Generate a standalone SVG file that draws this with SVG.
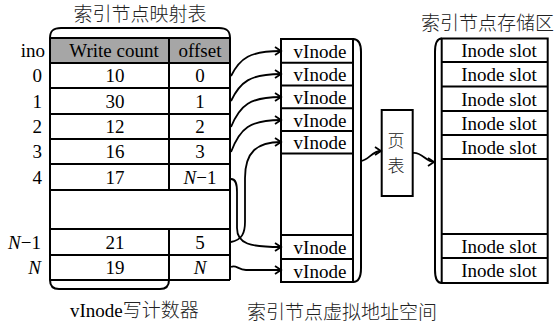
<svg xmlns="http://www.w3.org/2000/svg" width="554" height="327" viewBox="0 0 554 327">
<defs>
<marker id="arr" markerUnits="userSpaceOnUse" markerWidth="10" markerHeight="12" refX="7" refY="5" orient="auto">
<path d="M1,1 L7,5 L1,9" fill="none" stroke="#000" stroke-width="1.8"/>
</marker>
</defs>
<style>
.ln{stroke:#000;stroke-width:2;fill:none}
.bx{stroke:#000;stroke-width:2;fill:#fff}
.t{font-family:"Liberation Serif","Times New Roman",Times,"DejaVu Serif",serif;font-size:19px;fill:#000}
.c{font-family:"Noto Sans CJK SC","Noto Sans CJK JP",sans-serif;font-size:19px;fill:#222;font-weight:300}
.m{text-anchor:middle}
.e{text-anchor:end}
.i{font-style:italic}
.cn{stroke:#000;stroke-width:1.8;fill:none;marker-end:url(#arr)}
</style>
<rect width="554" height="327" fill="#fff"/>

<g id="mapping-table">
<text class="c m" x="140" y="21">索引节点映射表</text>
<path class="ln" d="M50,38 C50,31 53,28 61,28 L219,28 C227,28 230,31 230,38"/>
<rect x="50" y="38" width="180" height="25" fill="#a6a6a6"/>
<rect x="50" y="63" width="180" height="217" fill="#fff"/>
<path class="ln" d="M50,38 L50,280 M230,38 L230,280 M169,38 L169,190 M169,229 L169,280 M50,38 L230,38 M50,63 L230,63 M50,88 L230,88 M50,114 L230,114 M50,139 L230,139 M50,164 L230,164 M50,190 L230,190 M50,229 L230,229 M50,255 L230,255 M50,280 L230,280"/>
<path class="ln" d="M50,280 C50,286 53,289 59,289 L160,289 C166,289 169,286 169,280"/>
<text class="t m" x="114" y="57">Write count</text>
<text class="t m" x="200" y="57">offset</text>
<text class="t e" x="45" y="57">ino</text>
<text class="t e" x="42" y="82">0</text>
<text class="t e" x="42" y="107.5">1</text>
<text class="t e" x="42" y="133">2</text>
<text class="t e" x="42" y="158">3</text>
<text class="t e" x="42" y="183.5">4</text>
<text class="t e" x="41" y="248.5"><tspan class="i">N</tspan>−1</text>
<text class="t e i" x="41" y="274">N</text>
<text class="t m" x="115" y="82">10</text>
<text class="t m" x="115" y="107.5">30</text>
<text class="t m" x="115" y="133">12</text>
<text class="t m" x="115" y="158">16</text>
<text class="t m" x="115" y="183.5">17</text>
<text class="t m" x="115" y="248.5">21</text>
<text class="t m" x="115" y="274">19</text>
<text class="t m" x="200" y="82">0</text>
<text class="t m" x="200" y="107.5">1</text>
<text class="t m" x="200" y="133">2</text>
<text class="t m" x="200" y="158">3</text>
<text class="t m" x="200" y="183.5"><tspan class="i">N</tspan>−1</text>
<text class="t m" x="200" y="248.5">5</text>
<text class="t m i" x="200" y="274">N</text>
<text class="t" x="70" y="317">vInode<tspan class="c">写计数器</tspan></text>
</g>

<g id="vinode-space">
<rect class="bx" x="281" y="39" width="72" height="243"/>
<path class="ln" d="M281,62.7 L353,62.7 M281,85.5 L353,85.5 M281,108.3 L353,108.3 M281,131 L353,131 M281,153.5 L353,153.5 M281,235 L353,235 M281,259 L353,259"/>
<path class="ln" d="M353,39 C359,39 361,44 361,52 L361,268 C361,277 358,282 353,282"/>
<text class="t m" x="320" y="58">vInode</text>
<text class="t m" x="320" y="80.5">vInode</text>
<text class="t m" x="320" y="103.5">vInode</text>
<text class="t m" x="320" y="126.5">vInode</text>
<text class="t m" x="320" y="149">vInode</text>
<text class="t m" x="320" y="254">vInode</text>
<text class="t m" x="320" y="277.5">vInode</text>
<text class="c" x="247" y="319">索引节点虚拟地址空间</text>
</g>

<g id="page-table">
<rect class="bx" x="381.7" y="110" width="31" height="86"/>
<text class="c m" x="396" y="147" style="font-size:17px">页</text>
<text class="c m" x="396" y="172" style="font-size:17px">表</text>
</g>

<g id="inode-store">
<text class="c" x="421" y="30">索引节点存储区</text>
<rect class="bx" x="441.7" y="38.5" width="106" height="244.5"/>
<path class="ln" d="M441.7,62 L547.7,62 M441.7,86.5 L547.7,86.5 M441.7,111 L547.7,111 M441.7,135 L547.7,135 M441.7,159 L547.7,159 M441.7,234 L547.7,234 M441.7,258 L547.7,258"/>
<path class="ln" d="M441.7,38.5 C437,38.5 435,43 435,52 L435,270 C435,279 437,283 441.7,283"/>
<text class="t m" x="499" y="57">Inode slot</text>
<text class="t m" x="499" y="81">Inode slot</text>
<text class="t m" x="499" y="105.5">Inode slot</text>
<text class="t m" x="499" y="130">Inode slot</text>
<text class="t m" x="499" y="154">Inode slot</text>
<text class="t m" x="499" y="253">Inode slot</text>
<text class="t m" x="499" y="277">Inode slot</text>
</g>

<g id="connectors">
<path class="cn" d="M231,76 C240,58 250,51 281,51"/>
<path class="cn" d="M231,101 C240,82 250,74 281,74"/>
<path class="cn" d="M231,127 C240,105 250,97 281,97"/>
<path class="cn" d="M231,152 C240,128 250,120 281,120"/>
<path class="cn" d="M231,242 C242,240 245,233 245,222 L245,178 C245,152 257,142 281,142"/>
<path class="cn" d="M231,179 C236,179 237,184 237,192 L237,228 C237,244 250,247 281,247"/>
<path class="cn" d="M231,267 C236,264 238,270 246,270 L281,270"/>
<path class="cn" d="M361,161 C369,160 372,151 381,151"/>
<path class="cn" d="M413,153 C422,152 426,162 434,162"/>
</g>
</svg>
